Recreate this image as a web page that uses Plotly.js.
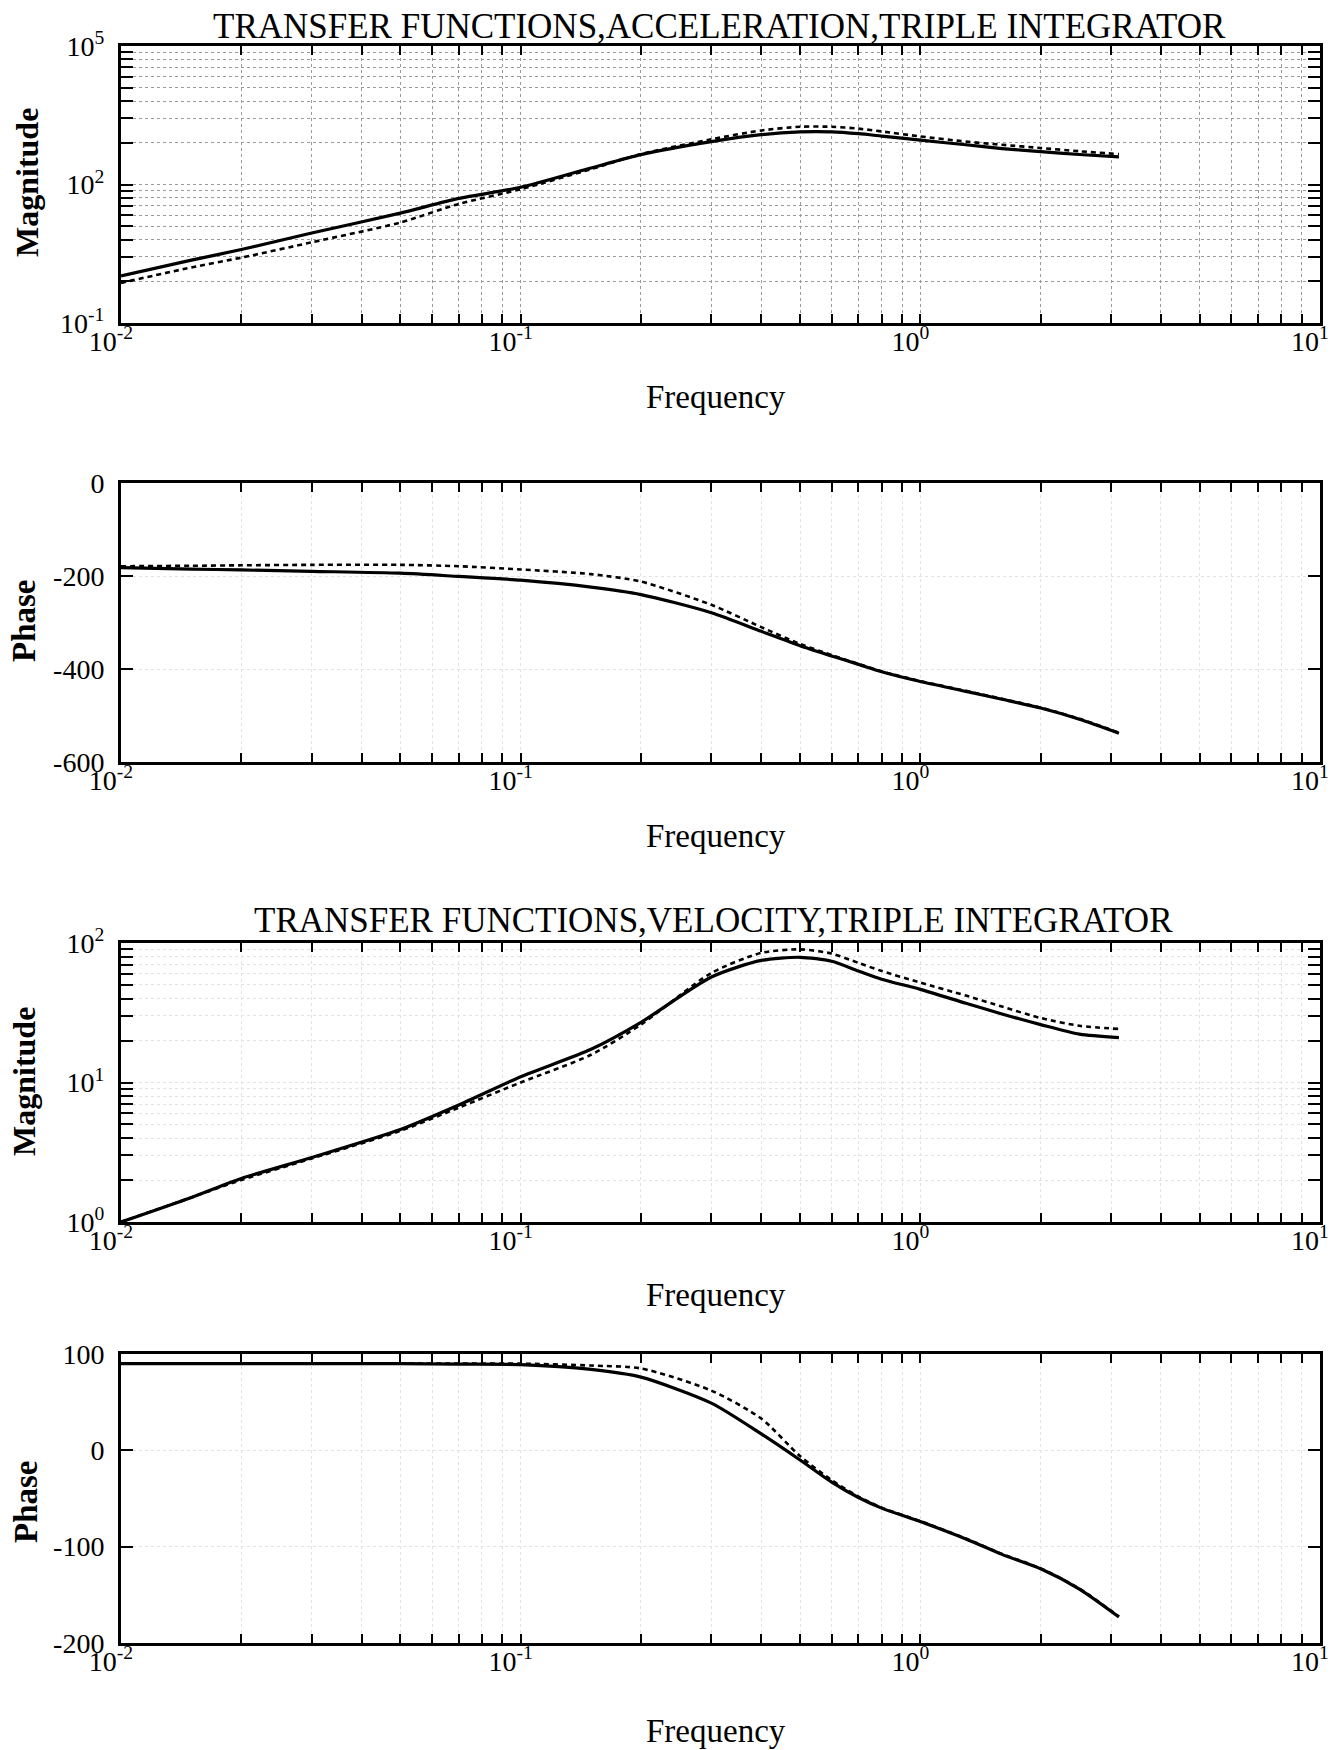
<!DOCTYPE html>
<html>
<head>
<meta charset="utf-8">
<script src="https://cdn.plot.ly/plotly-3.0.1.min.js"></script>
<style>
  html, body { margin: 0; padding: 0; background: #fff; }
  #chart { width: 1333px; height: 1750px; }
</style>
</head>
<body>
<div id="chart"></div>
<script>
// ---------------- data ----------------
const freq = [0.01, 0.015, 0.02, 0.03, 0.05, 0.07, 0.1, 0.15, 0.2, 0.3, 0.4, 0.5, 0.6, 0.7, 0.8, 1.0, 1.3, 1.6, 2.0, 2.5, 3.14];

// Acceleration magnitude
const accMagSolid  = [1.05, 2.3, 3.9, 8.9, 24, 50, 87, 228, 445, 850, 1200, 1380, 1380, 1260, 1120, 912, 725, 600, 513, 447, 398];
const accMagDashed = [0.74, 1.6, 2.6, 5.6, 15, 38, 79, 215, 455, 955, 1480, 1780, 1780, 1620, 1410, 1100, 850, 725, 617, 525, 457];

// Acceleration phase
const accPhaseSolid  = [-182, -185, -187, -190, -194, -201, -209, -224, -240, -279, -319, -350, -372, -390, -406, -427, -448, -465, -484, -508, -538];
const accPhaseDashed = [-179, -178, -177, -176, -176, -179, -186, -196, -212, -262, -310, -346, -370, -389, -405, -426, -447, -464, -483, -507, -537];

// Velocity magnitude
const velMagSolid  = [1.0, 1.5, 2.05, 2.9, 4.6, 6.9, 11, 17.3, 27, 57, 75, 79, 74, 63, 55, 46.5, 37, 31, 26, 22.2, 21];
const velMagDashed = [1.0, 1.5, 2.0, 2.85, 4.5, 6.6, 10, 15.8, 26, 61, 85, 90, 84, 72, 63, 52, 42, 35, 29, 25.5, 24.2];

// Velocity phase
const velPhaseSolid  = [90, 90, 90, 90, 90, 89.5, 89, 84, 76, 49, 17, -10, -33, -49, -60, -74, -92, -108, -123, -144, -173];
const velPhaseDashed = [90, 90, 90, 90, 90, 90, 90, 88, 85, 62, 33, -6, -31, -48, -59.5, -73.5, -91.5, -107.5, -122.5, -143.5, -172.5];

// Tick labels
const xTickVals = [0.01, 0.1, 1, 10];
const xTickText = ['10<sup>-2</sup>', '10<sup>-1</sup>', '10<sup>0</sup>', '10<sup>1</sup>'];
const xMinorVals = [0.02, 0.03, 0.04, 0.05, 0.06, 0.07, 0.08, 0.09,
                    0.2, 0.3, 0.4, 0.5, 0.6, 0.7, 0.8, 0.9,
                    2, 3, 4, 5, 6, 7, 8, 9];

const accMagTickVals = [0.1, 100, 100000];
const accMagTickText = ['10<sup>-1</sup>', '10<sup>2</sup>', '10<sup>5</sup>'];
const accMagMinorVals = [0.8, 2.7, 6.4, 12.5, 21.6, 34.3, 51.2, 72.9,
                         800, 2700, 6400, 12500, 21600, 34300, 51200, 72900];

const accPhaseTickVals = [0, -200, -400, -600];
const accPhaseTickText = ['0', '-200', '-400', '-600'];

const velMagTickVals = [1, 10, 100];
const velMagTickText = ['10<sup>0</sup>', '10<sup>1</sup>', '10<sup>2</sup>'];
const velMagMinorVals = [2, 3, 4, 5, 6, 7, 8, 9, 20, 30, 40, 50, 60, 70, 80, 90];

const velPhaseTickVals = [100, 0, -100, -200];
const velPhaseTickText = ['100', '0', '-100', '-200'];

const titleAcc = 'TRANSFER FUNCTIONS,ACCELERATION,TRIPLE INTEGRATOR';
const titleVel = 'TRANSFER FUNCTIONS,VELOCITY,TRIPLE INTEGRATOR';
const xLabel = 'Frequency';
const yLabelMag = 'Magnitude';
const yLabelPhase = 'Phase';

// ---------------- layout ----------------
const W = 1333, H = 1750;
const PL = 121, PR = 1320;
const panels = [
  {top: 46,   bottom: 323},
  {top: 483,  bottom: 762},
  {top: 943,  bottom: 1222},
  {top: 1354, bottom: 1643}
];
const FONT = '"Liberation Serif", "DejaVu Serif", Times, serif';
const tickFont = {family: FONT, size: 28, color: '#000'};

function px2x(x) { return x / W; }
function px2y(y) { return 1 - y / H; }

function xAxis(i, gridColor) {
  return {
    type: 'log', range: [-2, 1],
    domain: [px2x(PL), px2x(PR)],
    anchor: i === 1 ? 'y' : 'y' + i,
    showline: true, linewidth: 3, linecolor: '#000', mirror: 'ticks',
    ticks: 'inside', ticklen: 9, tickwidth: 2, tickcolor: '#000',
    tickmode: 'array', tickvals: xTickVals, ticktext: xTickText,
    tickfont: tickFont, ticklabelstandoff: -9, ticklabelshift: -10, ticklabeloverflow: 'allow',
    showgrid: true, gridcolor: gridColor, griddash: 'dot', gridwidth: 1,
    minor: {
      tickmode: 'array', tickvals: xMinorVals,
      ticks: 'inside', ticklen: 9, tickwidth: 2, tickcolor: '#000',
      showgrid: true, gridcolor: gridColor, griddash: 'dot', gridwidth: 1
    },
    zeroline: false, fixedrange: true
  };
}

function yAxis(i, opts) {
  const ax = {
    domain: [px2y(panels[i - 1].bottom), px2y(panels[i - 1].top)],
    anchor: i === 1 ? 'x' : 'x' + i,
    showline: true, linewidth: 3, linecolor: '#000', mirror: 'ticks',
    ticks: 'inside', ticklen: 12, tickwidth: 2, tickcolor: '#000',
    tickmode: 'array', tickvals: opts.tickvals, ticktext: opts.ticktext,
    tickfont: tickFont, ticklabelstandoff: 8, ticklabeloverflow: 'allow',
    showgrid: true, gridcolor: opts.gridColor, griddash: 'dot', gridwidth: 1,
    zeroline: false, fixedrange: true,
    range: opts.range
  };
  if (opts.type) ax.type = opts.type;
  if (opts.minorvals) {
    ax.minor = {
      tickmode: 'array', tickvals: opts.minorvals,
      ticks: 'inside', ticklen: 12, tickwidth: 2, tickcolor: '#000',
      showgrid: true, gridcolor: opts.gridColor, griddash: 'dot', gridwidth: 1
    };
  }
  return ax;
}

function solid(y, i) {
  return {x: freq, y: y, type: 'scatter', mode: 'lines',
          xaxis: i === 1 ? 'x' : 'x' + i, yaxis: i === 1 ? 'y' : 'y' + i,
          line: {color: '#000', width: 3.2, shape: 'spline', smoothing: 0.7},
          hoverinfo: 'skip'};
}
function dashed(y, i) {
  return {x: freq, y: y, type: 'scatter', mode: 'lines',
          xaxis: i === 1 ? 'x' : 'x' + i, yaxis: i === 1 ? 'y' : 'y' + i,
          line: {color: '#000', width: 2.6, dash: '5px,4px', shape: 'spline', smoothing: 0.7},
          hoverinfo: 'skip'};
}

const data = [
  dashed(accMagDashed, 1), solid(accMagSolid, 1),
  dashed(accPhaseDashed, 2), solid(accPhaseSolid, 2),
  dashed(velMagDashed, 3), solid(velMagSolid, 3),
  dashed(velPhaseDashed, 4), solid(velPhaseSolid, 4)
];

const gridStrong = '#9a9a9a';
const gridLight = '#e2e2e2';

function ann(text, xpx, ypx, size, extra) {
  return Object.assign({
    text: text, xref: 'paper', yref: 'paper',
    x: px2x(xpx), y: px2y(ypx), xanchor: 'center', yanchor: 'middle',
    showarrow: false, font: {family: FONT, size: size, color: '#000'}
  }, extra || {});
}
function yTitle(text, xpx, ypx, size) {
  return ann(text, xpx, ypx, size, {textangle: -90,
    font: {family: FONT, size: size, color: '#000', weight: 'bold'}});
}

const annotations = [
  ann(titleAcc, 719, 26, 35),
  ann(titleVel, 714, 920, 35),
  ann(xLabel, 716, 397, 33),
  ann(xLabel, 716, 836, 33),
  ann(xLabel, 716, 1295, 33),
  ann(xLabel, 716, 1731, 33),
  yTitle(yLabelMag, 27, 183, 32),
  yTitle(yLabelPhase, 24, 621, 33),
  yTitle(yLabelMag, 24, 1082, 32),
  yTitle(yLabelPhase, 26, 1502, 33)
];

const layout = {
  width: W, height: H, autosize: false,
  margin: {l: 0, r: 0, t: 0, b: 0, pad: 0},
  paper_bgcolor: '#fff', plot_bgcolor: '#fff',
  showlegend: false,
  font: {family: FONT, color: '#000'},
  xaxis: xAxis(1, gridStrong),
  xaxis2: xAxis(2, gridLight),
  xaxis3: xAxis(3, gridLight),
  xaxis4: xAxis(4, gridLight),
  yaxis: yAxis(1, {type: 'log', range: [-1, 5], tickvals: accMagTickVals, ticktext: accMagTickText, minorvals: accMagMinorVals, gridColor: gridStrong}),
  yaxis2: yAxis(2, {range: [-600, 0], tickvals: accPhaseTickVals, ticktext: accPhaseTickText, gridColor: gridLight}),
  yaxis3: yAxis(3, {type: 'log', range: [0, 2], tickvals: velMagTickVals, ticktext: velMagTickText, minorvals: velMagMinorVals, gridColor: gridLight}),
  yaxis4: yAxis(4, {range: [-200, 100], tickvals: velPhaseTickVals, ticktext: velPhaseTickText, gridColor: gridLight}),
  annotations: annotations
};

Plotly.newPlot('chart', data, layout, {staticPlot: true, displayModeBar: false});
</script>
</body>
</html>
